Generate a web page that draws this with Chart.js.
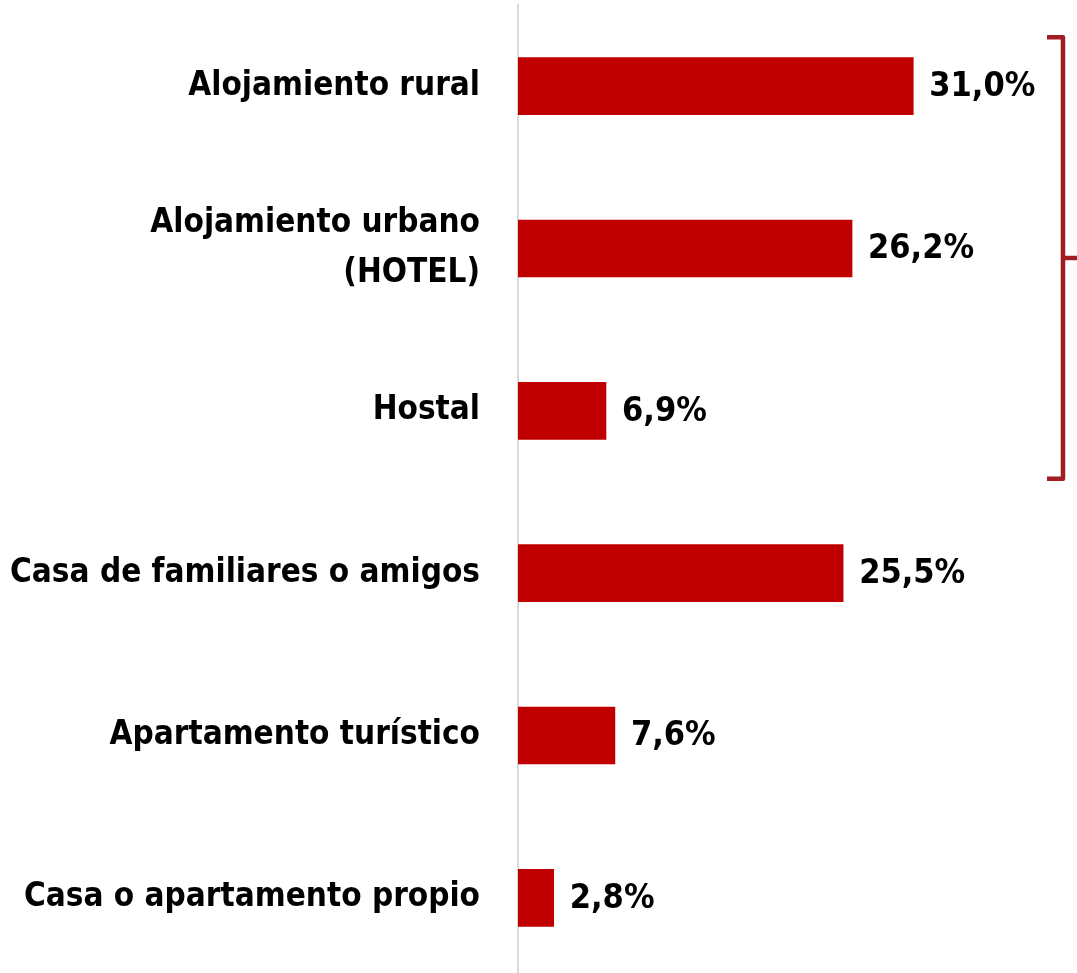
<!DOCTYPE html>
<html>
<head>
<meta charset="utf-8">
<script src="https://cdn.jsdelivr.net/npm/chart.js@4.4.0/dist/chart.umd.min.js"></script>
<style>
  html, body { margin: 0; padding: 0; background: #fff; overflow: hidden; }
  #wrap { position: relative; width: 1077px; height: 979px; }
</style>
</head>
<body>
<div id="wrap"><canvas id="chart"></canvas></div>
<script>
const categories = [
  'Alojamiento rural',
  ['Alojamiento urbano', '(HOTEL)'],
  'Hostal',
  'Casa de familiares o amigos',
  'Apartamento turístico',
  'Casa o apartamento propio'
]
const shares = [31.0, 26.2, 6.9, 25.5, 7.6, 2.8]
const valueLabels = ['31,0%', '26,2%', '6,9%', '25,5%', '7,6%', '2,8%']
// first three categories are grouped by the bracket on the right
const bracketGroup = [0, 2]

const FONT = "'Liberation Sans Narrow', 'DejaVu Sans Condensed', 'Roboto', sans-serif"

const valueLabelPlugin = {
  id: 'valueLabels',
  afterDatasetsDraw(chart) {
    const ctx = chart.ctx
    const meta = chart.getDatasetMeta(0)
    ctx.save()
    ctx.font = 'bold 34px ' + FONT
    ctx.fillStyle = '#000'
    ctx.textBaseline = 'middle'
    ctx.textAlign = 'left'
    meta.data.forEach(function(bar, i) {
      ctx.fillText(valueLabels[i], bar.x + 16, bar.y + 1)
    })
    ctx.restore()
  }
}

const bracketPlugin = {
  id: 'bracket',
  afterDraw(chart) {
    const ctx = chart.ctx
    const y = chart.scales.y
    const top = y.getPixelForValue(bracketGroup[0]) - 49
    const bottom = y.getPixelForValue(bracketGroup[1]) + 68
    const x = chart.chartArea.right + 35
    const mid = (top + bottom) / 2
    ctx.save()
    ctx.strokeStyle = '#A11D22'
    ctx.lineWidth = 4.5
    ctx.lineJoin = 'round'
    ctx.beginPath()
    ctx.moveTo(x - 16, top)
    ctx.lineTo(x, top)
    ctx.lineTo(x, bottom)
    ctx.lineTo(x - 16, bottom)
    ctx.moveTo(x, mid)
    ctx.lineTo(x + 16, mid)
    ctx.stroke()
    ctx.restore()
  }
}

new Chart(document.getElementById('chart'), {
  type: 'bar',
  data: {
    labels: categories,
    datasets: [{
      data: shares,
      backgroundColor: '#C00000',
      borderWidth: 0,
      barThickness: 57
    }]
  },
  options: {
    indexAxis: 'y',
    responsive: true,
    maintainAspectRatio: false,
    animation: false,
    layout: { padding: { top: 5, right: 49, bottom: 0, left: 0 } },
    plugins: {
      legend: { display: false },
      tooltip: { enabled: false }
    },
    scales: {
      x: {
        display: false,
        min: 0,
        max: 40
      },
      y: {
        afterFit(scale) {
          scale.width = 518
          // no extra room above/below for the tick labels
          scale.paddingTop = 0
          scale.paddingBottom = 0
        },
        grid: { display: false, drawTicks: false },
        border: { display: true, color: '#D9D9D9', width: 2 },
        ticks: {
          padding: 38,
          color: '#000',
          font: { family: FONT, size: 33, weight: 'bold', lineHeight: 1.5 }
        }
      }
    }
  },
  plugins: [valueLabelPlugin, bracketPlugin]
})
</script>
</body>
</html>
